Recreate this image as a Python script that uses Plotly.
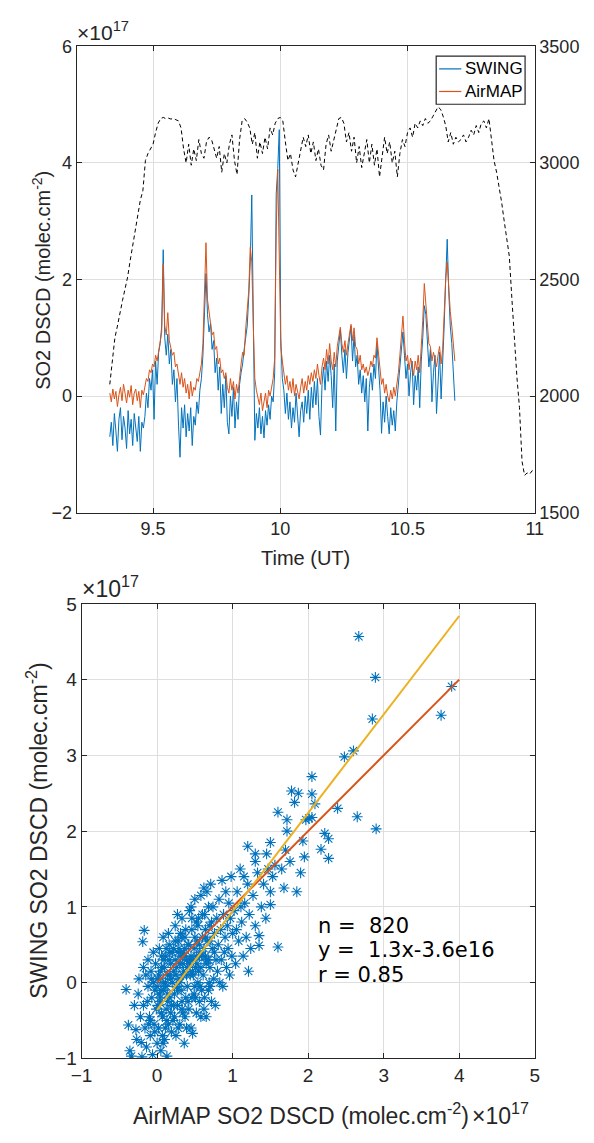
import numpy as np
import plotly.graph_objects as go

# ---------------- data (SO2 DSCD in units of 1e17 molec.cm-2) ----------------
# time series sampled every 0.006 h starting at 9.33 UT
t_start = 9.33
t_step = 0.006

swing = [
    -0.70, -0.45, -0.85, -0.30, -0.60, -0.95, -0.40, -0.20, -0.75, -0.35, -0.55, -0.90,
    -0.25, -0.65, -0.40, -0.85, -0.30, -0.50, -0.78, -0.35, -0.95, -0.45, -0.55,
    -0.35, 0.05, -0.20, 0.30, 0.10, 0.45, -0.40, 0.60, 0.20, 0.75, 0.90, 1.20,
    2.51, 1.00, 0.70, 1.06, 0.55, 0.80, 0.20, 0.45, -0.10, 0.30, -0.50, -1.05, -0.20,
    -0.55, -0.15, -0.70, -0.30, -0.60, -0.20, -0.85, -0.35, -0.50, -0.10, -0.30, 0.10,
    0.30, 0.70, 1.60, 2.10, 1.40, 1.10, 1.25, 0.80, 0.95, 0.40, 0.65, 0.10, 0.50, -0.30,
    0.20, -0.20, 0.35, -0.45, -0.65, 0.00, -0.35, 0.15, -0.55, -0.10, -0.40, 0.20, 0.40,
    0.55, 0.80, 1.00, 1.20, 1.70, 2.30, 3.45, 1.40,
    -0.76, -0.30, -0.55, -0.20, -0.65, -0.35, -0.72, -0.25, -0.50, -0.15, -0.40, 0.00,
    -0.10, 0.40, 3.47, 3.90, 4.57, 1.00,
    0.30, 0.10, -0.30, 0.05, -0.40, -0.10, -0.55, -0.20, -0.45, 0.05, -0.35, -0.70, -0.25,
    -0.10, -0.45, 0.00, -0.30, 0.10, -0.40, 0.15, -0.20, 0.25, -0.15, 0.30, -0.35, -0.67,
    0.20, 0.50, 0.10, 0.60, 0.25, 0.70, 0.35, -0.20, 0.55, -0.60, 0.60,
    0.95, 1.14, 0.70, 0.40, 0.80, 0.30, 0.75, 0.95, 1.20, 0.60, 1.05, 0.50, 0.70, 0.20,
    0.45, 0.05, 0.35, -0.10, 0.30, -0.60, 0.15, 0.40, 0.10, 0.55, 0.30, 0.90, 0.50, 0.10,
    -0.64, -0.10, -0.45, 0.00, -0.35, -0.65, -0.20, -0.50, -0.25, -0.60, -0.10,
    0.20, 0.50, 0.90, 1.10, 0.70, 0.30, 0.55, 0.00, 0.40, 0.60, -0.15, 0.35, 0.10, 0.50,
    -0.20, 0.60, 1.00, 1.55, 1.40, 0.90, 0.50, 0.80, -0.10, 0.40, 0.70, -0.30, 0.30, 0.75,
    -0.05, 0.50, 1.20, 2.00, 2.69, 1.80, 1.20, 0.90, 0.50, -0.08,
]

airmap = [
    0.05, -0.10, 0.12, -0.05, 0.08, -0.18, 0.02, 0.15, -0.08, 0.20, 0.05, -0.12,
    0.10, -0.02, 0.18, -0.15, 0.05, 0.12, -0.08, 0.08, -0.20, 0.10, 0.02,
    0.15, 0.30, 0.25, 0.45, 0.40, 0.55, 0.50, 0.70, 0.60, 0.80, 0.95, 1.10,
    2.27, 1.20, 1.05, 1.43, 0.95, 0.85, 0.70, 0.75, 0.50, 0.55, 0.35, 0.20, 0.40,
    0.15, 0.30, 0.05, 0.20, -0.05, 0.25, 0.00, 0.15, 0.10, 0.30, 0.25, 0.40,
    0.55, 0.90, 1.80, 2.63, 1.65, 1.45, 1.30, 1.05, 1.10, 0.80, 0.85, 0.55, 0.65, 0.40,
    0.45, 0.30, 0.40, 0.15, 0.05, 0.30, 0.10, 0.25, -0.05, 0.20, 0.05, 0.35, 0.55,
    0.75, 0.70, 1.15, 1.45, 1.80, 2.55, 2.30, 1.20,
    0.30, 0.10, 0.00, -0.15, 0.05, -0.25, -0.10, 0.05, -0.20, 0.10, 0.00, 0.15,
    0.30, 0.65, 2.82, 3.89, 2.65, 0.85,
    0.60, 0.40, 0.20, 0.35, 0.10, 0.25, 0.05, 0.30, 0.00, 0.20, 0.10, -0.05, 0.15,
    0.30, 0.05, 0.25, 0.10, 0.35, 0.20, 0.40, 0.25, 0.45, 0.30, 0.55, 0.35, 0.20,
    0.50, 0.65, 0.45, 0.80, 0.55, 0.90, 0.60, 0.45, 0.75, 0.50, 0.85,
    1.05, 1.18, 0.90, 0.75, 0.95, 0.70, 0.90, 1.10, 1.23, 0.95, 1.17, 0.85, 0.80, 0.55,
    0.70, 0.45, 0.55, 0.40, 0.50, 0.35, 0.45, 0.60, 0.50, 0.70, 0.65, 1.00, 0.75, 0.40,
    0.20, 0.30, 0.05, 0.20, 0.00, -0.10, 0.10, -0.05, 0.15, 0.00, 0.20,
    0.40, 0.70, 1.00, 1.37, 0.95, 0.60, 0.70, 0.45, 0.65, 0.55, 0.35, 0.60, 0.45, 0.70,
    0.40, 0.80, 1.30, 1.93, 1.60, 1.20, 0.90, 0.85, 0.60, 0.75, 0.65, 0.50, 0.70, 0.85,
    0.55, 0.80, 1.40, 2.00, 2.30, 1.85, 1.45, 1.20, 0.95, 0.60,
]

# aircraft altitude (m), sampled every 0.01 h starting at 9.33 UT
alt_start = 9.33
alt_step = 0.01
altitude = [
    2050, 2140, 2250, 2300, 2360, 2410, 2460, 2510, 2580, 2650,
    2720, 2780, 2840, 2880, 3010, 3040, 3060, 3080, 3130, 3170,
    3190, 3195, 3190, 3192, 3188, 3190, 3185, 3180, 3150, 3060,
    3000, 3080, 2990, 3060, 3010, 3100, 3040, 3020, 3090, 3110,
    3100, 3060, 3020, 3070, 2960, 3040, 3000, 3080, 3120, 3010,
    2950, 3100, 3180, 3190, 3175, 3150, 3080, 3130, 3020, 3090,
    3040, 3110, 3060, 3150, 3120, 3170, 3190, 3195, 3180, 3090,
    3010, 3040, 2970, 2940, 3000, 3060, 3110, 3070, 3120, 3040,
    3090, 3010, 3060, 2990, 2970, 3080, 3120, 3050, 3100, 3150,
    3190, 3195, 3170, 3090, 3130, 3050, 3110, 3000, 3070, 2980,
    3040, 3100, 3000, 3080, 2990, 3060, 2940, 3020, 3110, 3040,
    3090, 3000, 3050, 2940, 3040, 3100, 3070, 3130, 3150, 3110,
    3170, 3150, 3180, 3160, 3190, 3170, 3180, 3200, 3220, 3240,
    3230, 3200, 3160, 3090, 3130, 3080, 3110, 3090, 3100, 3120,
    3090, 3110, 3140, 3120, 3160, 3130, 3170, 3180, 3150, 3190,
    3100, 3010, 2960, 2900, 2830, 2750, 2680, 2600, 2420, 2240,
    2080, 1950, 1720, 1660, 1670, 1665, 1680, 1675,
]

# scatter: AirMAP (x) vs SWING (y) (units of 1e17)
scatter_airmap = [
    -0.41, -0.38, -0.36, -0.34, -0.30, -0.28, -0.25, -0.22, -0.21, -0.20, -0.19, -0.17, -0.24, -0.27,
    -0.18, -0.16, -0.15, -0.14, -0.12, -0.12, -0.10, -0.09, -0.08, -0.07, -0.06, -0.05, -0.04, -0.03,
    -0.02, -0.01, 0.00, -0.18, -0.13, -0.11, -0.05,
    0.01, 0.02, 0.03, 0.04, 0.05, 0.06, 0.07, 0.08, 0.09, 0.10, 0.11, 0.12, 0.13, 0.14, 0.15, 0.16,
    0.17, 0.18, 0.19, 0.20, 0.03, 0.06, 0.09, 0.12, 0.15, 0.18, 0.05, 0.11, 0.14, 0.17, 0.08,
    0.21, 0.22, 0.23, 0.24, 0.25, 0.26, 0.27, 0.28, 0.29, 0.30, 0.31, 0.32, 0.33, 0.34, 0.35, 0.36,
    0.37, 0.38, 0.39, 0.40, 0.22, 0.25, 0.28, 0.31, 0.34, 0.37, 0.24, 0.27, 0.30, 0.33, 0.36, 0.39,
    0.41, 0.42, 0.43, 0.44, 0.45, 0.46, 0.47, 0.48, 0.49, 0.50, 0.51, 0.52, 0.53, 0.54, 0.55, 0.56,
    0.57, 0.58, 0.59, 0.60, 0.43, 0.46, 0.49, 0.52, 0.55, 0.58, 0.45, 0.50, 0.56,
    0.61, 0.62, 0.63, 0.64, 0.65, 0.66, 0.67, 0.68, 0.69, 0.70, 0.71, 0.72, 0.73, 0.74, 0.75, 0.76,
    0.77, 0.78, 0.79, 0.80, 0.64, 0.68, 0.72, 0.76, 0.62, 0.70,
    0.81, 0.82, 0.83, 0.84, 0.85, 0.86, 0.87, 0.88, 0.89, 0.90, 0.91, 0.92, 0.93, 0.94, 0.95, 0.96,
    0.97, 0.98, 0.99, 1.00,
    1.02, 1.04, 1.06, 1.08, 1.10, 1.12, 1.14, 1.16, 1.18, 1.20, 1.22, 1.24, 1.05, 1.11, 1.15, 1.21,
    1.27, 1.30, 1.33, 1.35, 1.35, 1.38, 1.41, 1.44, 1.47, 1.50, 1.50, 1.53, 1.56, 1.60, 1.30, 1.45,
    1.60, 1.65, 1.70, 1.72, 1.72, 1.76, 1.78, 1.82, 1.87, 1.50, 1.20, 1.30, 1.90, 1.93, 1.95, 1.97,
    2.01, 2.05, 2.05, 2.05, 2.09, 2.17, 2.22, 2.27, 2.27, 1.85, 1.68,
    2.39, 2.48, 2.60, 2.65, 2.67, 2.85, 2.89, 2.90, 3.76, 3.90,
    0.00, 0.02, 0.04, 0.06, 0.08, 0.10, 0.12, 0.14, 0.16, 0.18, 0.20, 0.22, 0.24, 0.26, 0.28, 0.30,
    0.32, 0.34, 0.36, 0.38, 0.40, 0.42, 0.44, 0.46, 0.48, 0.50, 0.52, 0.54, 0.56, 0.58, 0.60, 0.62,
    0.64, 0.66, 0.68, 0.70,
    -0.09, -0.07, -0.03, 0.01, 0.05, 0.07, 0.11, 0.13, 0.17, 0.19, 0.23, 0.27, 0.29, 0.33, 0.35, 0.39,
    0.41, 0.45, 0.47, 0.51, 0.53, 0.57, 0.59, 0.63, 0.65, 0.69,
]
scatter_swing = [
    -0.09, -0.56, -0.90, -0.97, -0.30, -0.62, -0.15, -0.45, -0.79, -0.98, 0.54, 0.69, 0.05, -0.75,
    -0.30, -0.60, 0.10, -0.85, -0.05, 0.30, -0.45, -0.70, 0.15, -0.20, -0.95, 0.40, -0.55, -0.10,
    0.25, -0.35, -0.80, 0.20, -0.25, -0.55, 0.00,
    0.05, -0.60, 0.45, -0.25, -0.90, 0.20, -0.45, 0.60, -0.10, -0.75, 0.35, -0.35, -0.97, 0.10, -0.55, 0.50,
    -0.20, 0.25, -0.65, 0.00, -0.15, -0.40, 0.30, -0.05, 0.65, -0.40, 0.15, -0.60, -0.25, 0.40, -0.80,
    -0.50, 0.45, -0.15, 0.75, -0.70, 0.20, -0.30, 0.55, 0.05, -0.55, 0.35, -0.10, 0.85, -0.40, 0.15, -0.80,
    0.60, -0.20, 0.30, -0.05, -0.30, 0.10, -0.60, 0.65, 0.25, -0.45, 0.30, 0.90, 0.00, -0.25, 0.45, -0.60,
    0.50, -0.35, 0.95, 0.10, -0.60, 0.70, -0.67, 0.30, -0.15, 1.10, 0.20, -0.40, 0.55, 0.00, 0.85, -0.25,
    0.40, 1.15, -0.10, 0.60, 0.25, -0.20, 0.45, 0.80, 0.15, -0.45, 1.00, -0.05, 0.35,
    0.10, -0.35, 0.90, 0.35, -0.45, 1.20, 0.55, -0.10, 0.75, 0.20, 1.30, -0.25, 0.45, 1.00, 0.05, 0.65,
    -0.30, 0.30, 0.85, 0.15, 0.60, 0.30, 0.80, 0.40, 1.25, -0.05,
    0.50, 1.10, 0.00, 0.70, 0.30, 1.35, -0.05, 0.90, 0.40, 0.60, 1.20, 0.20, 0.75, 0.45, 1.05, 0.10,
    0.85, 1.40, 0.35, 0.65,
    0.95, 0.25, 1.20, 0.55, 1.50, 0.80, 0.35, 1.05, 0.60, 1.30, 0.90, 0.45, 0.70, 1.00, 1.40, 0.15,
    1.15, 0.75, 1.45, 0.49, 0.62, 1.00, 1.30, 0.85, 1.50, 1.03, 1.20, 1.40, 1.55, 0.47, 1.60, 1.70,
    2.25, 1.50, 1.75, 2.15, 2.00, 1.60, 2.53, 2.38, 2.50, 1.85, 1.80, 1.70, 1.45, 1.87, 1.66, 2.15,
    2.17, 2.18, 2.72, 2.49, 2.36, 1.76, 1.97, 1.90, 1.64, 1.20, 1.25,
    2.30, 2.98, 3.06, 2.19, 4.57, 3.48, 4.03, 2.03, 3.53, 3.91,
    -0.05, 0.10, -0.20, 0.35, 0.00, 0.20, 0.45, -0.15, 0.30, 0.05, 0.40, 0.15, 0.55, -0.05, 0.40, 0.25,
    0.60, 0.10, 0.35, 0.70, 0.20, 0.50, 0.30, 0.85, 0.10, 0.60, 0.35, 0.75, 0.50, 0.20, 0.90, 0.45,
    0.70, 0.30, 1.00, 0.55,
    -0.50, 0.05, -0.65, -0.30, -0.10, -0.70, 0.00, -0.50, 0.10, -0.30, -0.45, -0.10, 0.45, -0.35, 0.40, 0.10,
    -0.25, 0.35, 0.15, -0.20, 0.25, -0.05, 0.35, -0.20, 0.25, 0.00,
]

# regression (units of 1e17)
fit_slope = 1.3
fit_intercept = -0.36
fit_x_span = [0, 4]
n_label = 820
r_label = 0.85

top_xticks = [9.5, 10, 10.5, 11]
top_xticktext = ["9.5", "10", "10.5", "11"]
top_yticks = [-2, 0, 2, 4, 6]
top_y2ticks = [1500, 2000, 2500, 3000, 3500]
bot_ticks = [-1, 0, 1, 2, 3, 4, 5]
legend_names = ["SWING", "AirMAP"]

assert len(swing) == len(airmap)
assert len(scatter_airmap) == len(scatter_swing)

# ---------------- figure ----------------
W, H = 594, 1143
BLUE, ORANGE, YELLOW = "#0072BD", "#D95319", "#EDB120"
AX = "#262626"
GRID = "#dedede"
FONT = "Liberation Sans, Arial, sans-serif"

t = np.round(t_start + t_step * np.arange(len(swing)), 4)
ta = np.round(alt_start + alt_step * np.arange(len(altitude)), 4)

fig = go.Figure()
fig.add_trace(go.Scatter(x=t, y=swing, mode="lines", name=legend_names[0], showlegend=False,
                         line=dict(color=BLUE, width=1), xaxis="x", yaxis="y"))
fig.add_trace(go.Scatter(x=t, y=airmap, mode="lines", name=legend_names[1], showlegend=False,
                         line=dict(color=ORANGE, width=1), xaxis="x", yaxis="y"))
fig.add_trace(go.Scatter(x=ta, y=altitude, mode="lines", showlegend=False,
                         line=dict(color="black", width=1, dash="4px,3px"),
                         xaxis="x", yaxis="y2"))

fig.add_trace(go.Scatter(x=scatter_airmap, y=scatter_swing, mode="markers", showlegend=False,
                         marker=dict(symbol="asterisk-open", size=9, color=BLUE,
                                     line=dict(color=BLUE, width=1.1)),
                         xaxis="x2", yaxis="y3"))
fig.add_trace(go.Scatter(x=fit_x_span, y=fit_x_span, mode="lines", showlegend=False,
                         line=dict(color=ORANGE, width=2), xaxis="x2", yaxis="y3"))
fit_y = [fit_slope * v + fit_intercept for v in fit_x_span]
fig.add_trace(go.Scatter(x=fit_x_span, y=fit_y, mode="lines", showlegend=False,
                         line=dict(color=YELLOW, width=2), xaxis="x2", yaxis="y3"))


def px_x(p):
    return p / W


def px_y(p):
    return 1 - p / H


def common(size):
    return dict(showline=True, linecolor=AX, linewidth=1, ticks="inside", ticklen=5,
                tickcolor=AX, tickwidth=1, zeroline=False,
                tickfont=dict(family=FONT, size=size, color=AX))


fig.update_layout(
    width=W, height=H, margin=dict(l=0, r=0, t=0, b=0),
    paper_bgcolor="white", plot_bgcolor="white", showlegend=False,
    xaxis=dict(domain=[px_x(68), px_x(542)], anchor="y", range=[9.2, 11],
               tickvals=top_xticks, ticktext=top_xticktext,
               mirror="ticks", showgrid=True, gridcolor=GRID, **common(18)),
    yaxis=dict(domain=[px_y(512), px_y(37)], anchor="x", range=[-2, 6],
               tickvals=top_yticks, showgrid=True, gridcolor=GRID, **common(18)),
    yaxis2=dict(overlaying="y", side="right", anchor="x", range=[1500, 3500],
                tickvals=top_y2ticks, showgrid=False, **common(18)),
    xaxis2=dict(domain=[px_x(73), px_x(542)], anchor="y3", range=[-1, 5],
                tickvals=bot_ticks, mirror="ticks", showgrid=True, gridcolor=GRID, **common(19)),
    yaxis3=dict(domain=[px_y(1068), px_y(605)], anchor="x2", range=[-1, 5],
                tickvals=bot_ticks, mirror="ticks", showgrid=True, gridcolor=GRID, **common(19)),
)

# legend box drawn by hand (top-right of upper panel)
shapes = [
    dict(type="rect", xref="paper", yref="paper", x0=px_x(440), x1=px_x(532),
         y0=px_y(96), y1=px_y(47), line=dict(color=AX, width=1.2), fillcolor="white", layer="above"),
    dict(type="line", xref="paper", yref="paper", x0=px_x(443), x1=px_x(466),
         y0=px_y(60), y1=px_y(60), line=dict(color=BLUE, width=1.2), layer="above"),
    dict(type="line", xref="paper", yref="paper", x0=px_x(443), x1=px_x(466),
         y0=px_y(83), y1=px_y(83), line=dict(color=ORANGE, width=1.2), layer="above"),
]
fig.update_layout(shapes=shapes)

ann = []
leg = dict(family=FONT, size=17, color="black")
for name, yy in zip(legend_names, [60, 83]):
    ann.append(dict(text=name, x=px_x(468), y=px_y(yy), xanchor="left", yanchor="middle", font=leg))

lab_top = dict(family=FONT, size=20, color=AX)
lab_bot = dict(family=FONT, size=23, color=AX)
exp_top = dict(family=FONT, size=21, color=AX)
exp_bot = dict(family=FONT, size=23, color=AX)
ann.append(dict(text="×10<sup>17</sup>", x=px_x(66), y=px_y(37), xanchor="left",
                yanchor="bottom", font=exp_top))
ann.append(dict(text="SO2 DSCD (molec.cm<sup>-2</sup>)", textangle=-90, x=px_x(32),
                y=px_y(275), xanchor="center", yanchor="middle", font=lab_top))
ann.append(dict(text="Time (UT)", x=px_x(305), y=px_y(558), xanchor="center",
                yanchor="middle", font=lab_top))
ann.append(dict(text="×10<sup>17</sup>", x=px_x(71), y=px_y(605), xanchor="left",
                yanchor="bottom", font=exp_bot))
ann.append(dict(text="SWING SO2 DSCD (molec.cm<sup>-2</sup>)", textangle=-90, x=px_x(27),
                y=px_y(836), xanchor="center", yanchor="middle", font=lab_bot))
ann.append(dict(text="AirMAP SO2 DSCD (molec.cm<sup>-2</sup>)", x=px_x(476), y=px_y(1142),
                xanchor="right", yanchor="bottom", font=lab_bot))
ann.append(dict(text="×10<sup>17</sup>", x=px_x(475), y=px_y(1142), xanchor="left",
                yanchor="bottom", font=exp_bot))

stat = dict(family="DejaVu Sans, Verdana, sans-serif", size=21, color="black")
lines = ["n =\u00a0 %d" % n_label,
         "y =\u00a0 %.1fx-%.1fe16" % (fit_slope, -fit_intercept * 10),
         "r = %.2f" % r_label]
for k, s in enumerate(lines):
    ann.append(dict(text=s, x=px_x(316), y=px_y(933 + 25 * k), xanchor="left",
                    yanchor="middle", font=stat))

for a in ann:
    a.update(xref="paper", yref="paper", showarrow=False)
fig.update_layout(annotations=ann)

fig.write_html("out.html")
